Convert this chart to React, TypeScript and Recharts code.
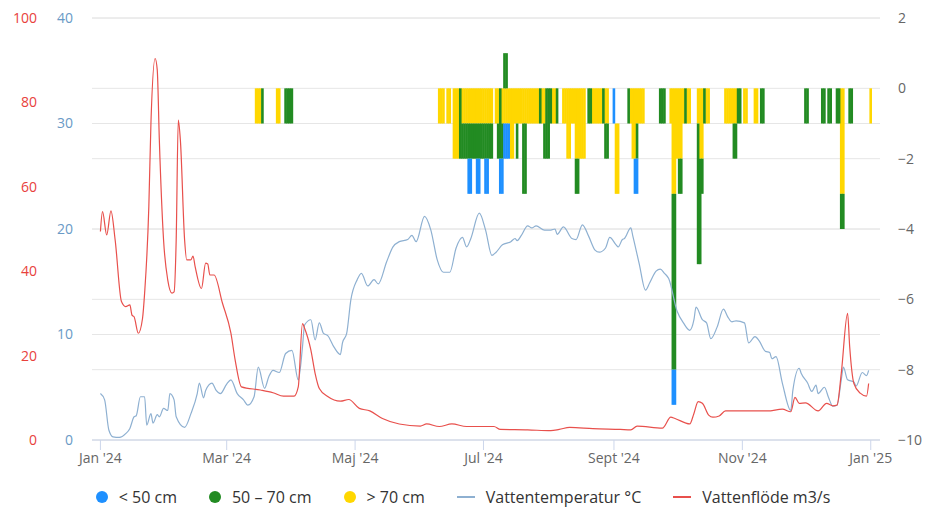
import React from 'react';
import { ComposedChart, Bar, Line, XAxis, YAxis, CartesianGrid, Legend } from 'recharts';

document.body.style.margin = '0';

const FONT = '"Open Sans", sans-serif';

// x axis is day of year 2024 (0 = 1 Jan)
const monthTicks = [0, 60, 121, 182, 244, 305, 366];
const monthLabels = ["Jan '24", "Mar '24", "Maj '24", "Jul '24", "Sept '24", "Nov '24", "Jan '25"];
const tempTicks = [0, 10, 20, 30, 40];
const flowTicks = [0, 20, 40, 60, 80, 100];
const depthTicks = [-10, -8, -6, -4, -2, 0, 2];

// [day, °C]
const tempPoints: [number, number][] = [
  [0, 4.4], [2, 3.8], [4, 0.95], [6, 0.3], [9, 0.25], [12, 0.6], [14, 1.1], [16, 2.2], [17, 2.3],
  [19, 4.1], [21, 4.1], [22, 1.4], [24, 2.5], [25, 1.6], [27, 2.4], [28, 2.2], [30, 3.0], [32, 2.8],
  [33, 4.4], [35, 3.8], [36, 2.2], [40, 1.2], [43, 2.5], [46, 4.4], [47, 5.4], [49, 4.0], [50, 4.7],
  [53, 5.4], [55, 4.7], [57, 4.4], [60, 5.3], [62, 5.7], [65, 4.4], [68, 3.8], [70, 3.3], [73, 4.1],
  [75, 6.9], [78, 4.9], [80, 6.0], [82, 6.6], [85, 6.4], [88, 8.2], [91, 8.5], [94, 5.7], [96, 8.8],
  [97, 10.9], [100, 11.4], [102, 9.5], [104, 11.1], [106, 10.1], [108, 9.9], [111, 8.8], [114, 8.1],
  [115, 9.2], [117, 10.1], [119, 13.3], [122, 15.2], [124, 15.8], [127, 14.6], [130, 15.2], [132, 14.8],
  [136, 16.9], [139, 18.3], [142, 18.8], [146, 19.0], [148, 19.4], [150, 18.8], [154, 21.2], [157, 19.9],
  [160, 17.1], [163, 15.9], [166, 15.9], [169, 18.2], [172, 19.2], [174, 18.3], [176, 19.1], [180, 21.5],
  [183, 19.9], [186, 17.5], [188, 17.8], [191, 18.5], [195, 18.8], [197, 19.1], [198, 18.9], [200, 19.4],
  [203, 20.3], [205, 20.1], [207, 20.3], [211, 19.9], [214, 19.9], [216, 20.0], [217, 19.5], [220, 20.2],
  [224, 19.1], [226, 19.0], [229, 20.4], [232, 19.3], [235, 18.0], [237, 17.8], [240, 18.2], [242, 19.2],
  [245, 18.5], [246, 18.3], [248, 19.0], [249, 19.1], [252, 20.1], [253, 19.3], [256, 16.7], [259, 14.2],
  [261, 14.9], [264, 16.0], [266, 16.2], [268, 15.8], [270, 15.3], [274, 12.2], [277, 11.1], [280, 10.4],
  [282, 11.4], [283, 12.6], [286, 11.4], [288, 11.1], [290, 9.6], [293, 10.7], [296, 12.4], [298, 11.7],
  [300, 11.2], [302, 11.3], [306, 11.1], [308, 9.2], [311, 9.8], [313, 9.4], [316, 8.4], [318, 8.3],
  [319, 7.7], [321, 7.9], [324, 5.4], [328, 2.8], [329, 4.7], [332, 6.8], [333, 6.3], [336, 5.4],
  [338, 4.6], [340, 5.2], [341, 4.4], [344, 5.0], [346, 4.0], [348, 3.2], [350, 3.3], [352, 5.7],
  [353, 6.9], [355, 5.7], [358, 5.5], [359, 5.1], [362, 6.4], [364, 6.1], [365, 6.6],
];

// [day, m3/s]
const flowPoints: [number, number][] = [
  [0, 49.4], [1, 54.1], [3, 48.6], [5, 54.3], [7, 47.4], [10, 32.8], [12, 31.6], [14, 32.0], [15, 29.6],
  [16, 29.2], [18, 25.3], [20, 28.8], [21, 34.8], [23, 55.3], [24, 75], [26, 90.4], [27, 87.7], [28, 71],
  [30, 47.4], [32, 37.9], [34, 34.8], [35, 35.1], [36, 47.4], [37, 75.8], [38, 71], [40, 47.4], [41, 42.7],
  [43, 42.7], [44, 43.6], [45, 41.1], [48, 35.9], [50, 41.9], [51, 41.7], [52, 39.1], [54, 39.1], [58, 32.4],
  [62, 25.3], [64, 19], [67, 12.6], [76, 11.85], [82, 11.2], [87, 10.4], [92, 10.4], [94, 12.6], [96, 27.6],
  [97, 26.5], [100, 21.3], [102, 15.8], [104, 12.2], [108, 10.3], [114, 9.2], [118, 9.6], [123, 7.5],
  [128, 6.9], [134, 5.1], [142, 3.8], [152, 3.3], [155, 3.8], [161, 3.2], [167, 3.8], [174, 3.2],
  [187, 3.2], [190, 2.5], [203, 2.4], [214, 2.2], [218, 2.5], [223, 3.0], [234, 2.7], [247, 2.5],
  [252, 2.4], [255, 3.3], [267, 2.8], [271, 5.4], [273, 5.1], [280, 3.8], [282, 6.3], [284, 9.1],
  [286, 8.7], [289, 5.9], [291, 5.4], [294, 5.7], [297, 6.9], [304, 6.9], [317, 6.9], [324, 7.3],
  [328, 6.7], [330, 10.1], [332, 8.7], [335, 8.8], [341, 6.9], [345, 8.7], [348, 8.1], [350, 8.3],
  [352, 15.8], [355, 30], [356, 22.1], [358, 13.4], [361, 11.1], [364, 10.4], [365, 13.4],
];

// [first day, last day, top, bottom]
const under50: [number, number, number, number][] = [
  [175, 176, -2, -3], [179, 180, -2, -3], [183, 184, -2, -3], [190, 191, -2, -3], [192, 194, -1, -2],
  [244, 244, 0, -1], [254, 255, -2, -3], [272, 273, -8, -9],
];

const from50to70: [number, number, number, number][] = [
  [77, 77, 0, -1], [88, 91, 0, -1], [171, 171, 0, -2], [172, 186, -1, -2], [189, 191, -1, -2],
  [190, 190, 0, -2], [192, 193, 1, 0], [198, 198, -1, -2], [201, 202, -1, -3], [209, 209, 0, -1],
  [212, 214, 0, -1], [211, 213, -1, -2], [217, 217, 0, -1], [226, 227, -2, -3], [232, 233, 0, -1],
  [239, 239, 0, -1], [240, 241, -1, -2], [251, 251, 0, -1], [255, 255, -1, -2], [266, 268, 0, -1],
  [272, 273, -3, -8], [275, 276, -2, -3], [278, 278, 0, -1], [284, 284, -1, -5], [285, 285, -2, -5],
  [286, 286, -2, -3], [287, 287, 0, -1], [301, 302, -1, -2], [303, 304, 0, -1], [314, 315, 0, -1],
  [335, 336, 0, -1], [343, 344, 0, -1], [346, 347, 0, -1], [350, 351, 0, -1], [352, 353, -3, -4],
  [356, 357, 0, -1],
];

const over70: [number, number, number, number][] = [
  [74, 76, 0, -1], [84, 85, 0, -1], [161, 163, 0, -1], [165, 166, 0, -1], [168, 170, 0, -2],
  [172, 186, 0, -1], [188, 189, 0, -1], [191, 208, 0, -1], [195, 196, 0, -2], [210, 211, 0, -1],
  [215, 216, 0, -1], [220, 230, 0, -1], [222, 223, 0, -2], [226, 230, 0, -2], [234, 238, 0, -1],
  [240, 241, 0, -1], [245, 246, -1, -3], [252, 258, 0, -1], [253, 254, 0, -2], [271, 277, 0, -1],
  [272, 273, 0, -3], [274, 276, 0, -2], [279, 280, 0, -1], [284, 284, 0, -1], [285, 286, 0, -2],
  [288, 289, 0, -1], [297, 302, 0, -1], [306, 307, 0, -1], [311, 312, 0, -1], [352, 353, 0, -3],
  [366, 366, 0, -1],
];

const BLUE = '#1e90ff';
const GREEN = '#228b22';
const YELLOW = '#ffd700';
const TEMP = '#8eb0d1';
const FLOW = '#e8504c';

type Range = [number, number];
type Row = { day: number; temp?: number; flow?: number; blue?: Range; green?: Range; yellow?: Range };

const byDay = new Map<number, Row>();
const rowAt = (day: number) => {
  let r = byDay.get(day);
  if (!r) {
    r = { day };
    byDay.set(day, r);
  }
  return r;
};
tempPoints.forEach(([d, v]) => { rowAt(d).temp = v; });
flowPoints.forEach(([d, v]) => { rowAt(d).flow = v; });
const addRuns = (key: 'blue' | 'green' | 'yellow', runs: [number, number, number, number][]) => {
  runs.forEach(([from, to, top, bottom]) => {
    for (let d = from; d <= to; d++) {
      const r = rowAt(d);
      const prev = r[key];
      r[key] = prev ? [Math.min(prev[0], bottom), Math.max(prev[1], top)] : [bottom, top];
    }
  });
};
addRuns('blue', under50);
addRuns('green', from50to70);
addRuns('yellow', over70);
const data = Array.from(byDay.values()).sort((a, b) => a.day - b.day);

const X_DOMAIN: [number, number] = [-4, 370.4];

// slightly widen each day column so neighbouring days join without seams
const DayColumn = (p: any) => {
  if (!p.height || !isFinite(p.y) || !isFinite(p.x)) return <g />;
  return <rect x={p.x - 0.3} y={p.y} width={p.width + 0.6} height={p.height} fill={p.fill} />;
};

const legendItems = [
  { label: '< 50 cm', color: BLUE, dot: true },
  { label: '50 – 70 cm', color: GREEN, dot: true },
  { label: '> 70 cm', color: YELLOW, dot: true },
  { label: 'Vattentemperatur °C', color: TEMP, dot: false },
  { label: 'Vattenflöde m3/s', color: FLOW, dot: false },
];

const LegendRow = () => (
  <div style={{ display: 'flex', justifyContent: 'center', alignItems: 'center', height: 24, fontFamily: FONT, fontSize: 16, color: '#333' }}>
    {legendItems.map((it) => (
      <div key={it.label} style={{ display: 'flex', alignItems: 'center', margin: '0 16px' }}>
        {it.dot ? (
          <span style={{ width: 12, height: 12, borderRadius: 6, background: it.color, display: 'inline-block' }} />
        ) : (
          <span style={{ width: 18, height: 1.5, background: it.color, display: 'inline-block' }} />
        )}
        <span style={{ marginLeft: 11 }}>{it.label}</span>
      </div>
    ))}
  </div>
);

const fmtDepth = (v: number) => (v < 0 ? '\u2212' + Math.abs(v) : String(v));

export default function App() {
  return (
    <div style={{ width: 926, height: 509, fontFamily: FONT }}>
      <ComposedChart width={926} height={509} data={data} margin={{ top: 18, right: 0, bottom: 0, left: 0 }} barCategoryGap={0} barGap={0}>
        <CartesianGrid vertical={false} stroke="#e6e6e6" />
        <CartesianGrid vertical={false} yAxisId="tempAxis" stroke="#e6e6e6" />
        <XAxis
          dataKey="day"
          type="number"
          domain={X_DOMAIN}
          ticks={monthTicks}
          interval={0}
          tickFormatter={(v: number) => monthLabels[monthTicks.indexOf(v)] ?? ''}
          height={45}
          tickSize={10}
          tickMargin={3}
          axisLine={{ stroke: '#ccd6eb' }}
          tickLine={{ stroke: '#ccd6eb' }}
          tick={{ fill: '#666', fontSize: 14 }}
        />
        <XAxis xAxisId="xg" dataKey="day" type="number" domain={X_DOMAIN} hide />
        <XAxis xAxisId="xb" dataKey="day" type="number" domain={X_DOMAIN} hide />
        <YAxis
          yAxisId="tempAxis"
          orientation="left"
          domain={[0, 40]}
          ticks={tempTicks}
          width={51}
          tickSize={0}
          tickMargin={19}
          axisLine={false}
          tickLine={false}
          tick={{ fill: '#6a9ac6', fontSize: 14 }}
        />
        <YAxis
          yAxisId="waterFlow"
          orientation="left"
          domain={[0, 100]}
          ticks={flowTicks}
          width={41}
          tickSize={0}
          tickMargin={4}
          axisLine={false}
          tickLine={false}
          tick={{ fill: '#e8413c', fontSize: 14 }}
        />
        <YAxis
          orientation="right"
          domain={[-10, 2]}
          ticks={depthTicks}
          tickFormatter={fmtDepth}
          width={46}
          tickSize={0}
          tickMargin={18}
          axisLine={false}
          tickLine={false}
          tick={{ fill: '#666', fontSize: 14 }}
        />
        <Bar dataKey="yellow" fill={YELLOW} shape={DayColumn} isAnimationActive={false} />
        <Bar xAxisId="xg" dataKey="green" fill={GREEN} shape={DayColumn} isAnimationActive={false} />
        <Bar xAxisId="xb" dataKey="blue" fill={BLUE} shape={DayColumn} isAnimationActive={false} />
        <Line yAxisId="tempAxis" dataKey="temp" type="monotone" stroke={TEMP} strokeWidth={1.2} dot={false} activeDot={false} connectNulls isAnimationActive={false} />
        <Line yAxisId="waterFlow" dataKey="flow" type="monotone" stroke={FLOW} strokeWidth={1.2} dot={false} activeDot={false} connectNulls isAnimationActive={false} />
        <Legend verticalAlign="bottom" height={24} content={() => <LegendRow />} />
      </ComposedChart>
    </div>
  );
}
